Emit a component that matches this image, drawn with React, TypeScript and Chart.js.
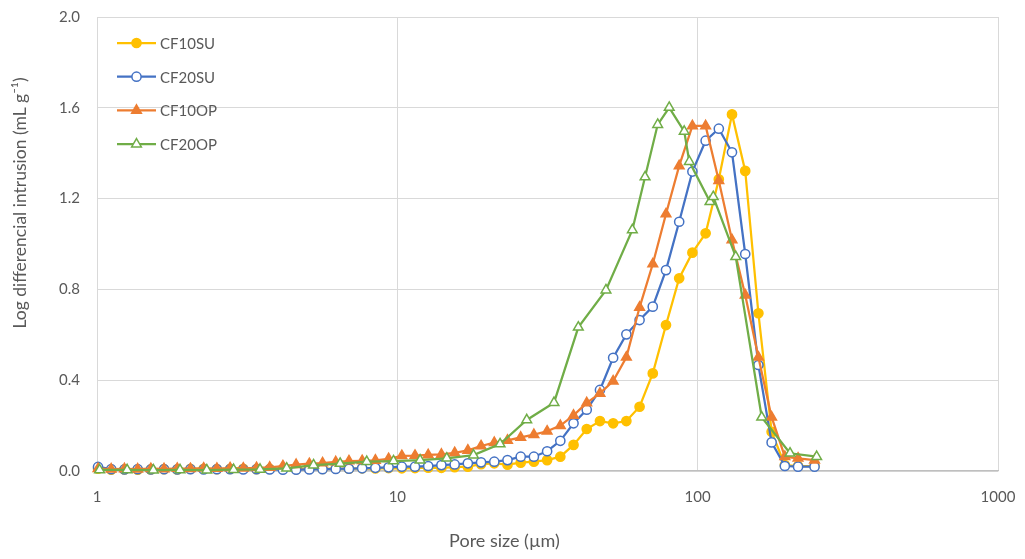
import React, { useEffect, useRef } from 'react';
import { Chart, registerables } from 'chart.js';

Chart.register(...registerables);

// Pore size grid (µm) shared by CF10SU, CF20SU and CF10OP
const poreSize = [
  1.008, 1.115, 1.234, 1.366, 1.511, 1.672, 1.85, 2.047, 2.265, 2.507, 2.774, 3.069, 3.397, 3.759,
  4.159, 4.603, 5.093, 5.636, 6.236, 6.901, 7.636, 8.45, 9.352, 10.35, 11.45, 12.67, 14.02, 15.52,
  17.17, 19.0, 21.03, 23.27, 25.75, 28.49, 31.53, 34.89, 38.61, 42.72, 47.28, 52.31, 57.89, 64.06,
  70.88, 78.44, 86.79, 96.04, 106.3, 117.6, 130.1, 144.0, 159.3, 176.3, 195.1, 215.9, 245.0,
];

// Log differential intrusion (mL/g)
const cf10su = [
  0.01, 0.006, 0.007, 0.006, 0.007, 0.008, 0.007, 0.009, 0.01, 0.008, 0.009, 0.01, 0.008, 0.009,
  0.01, 0.008, 0.01, 0.009, 0.011, 0.01, 0.012, 0.011, 0.013,
  0.012, 0.013, 0.015, 0.014, 0.017, 0.019, 0.03, 0.034, 0.028, 0.037, 0.041, 0.048, 0.063, 0.115,
  0.185, 0.22, 0.21, 0.22, 0.283, 0.43, 0.643, 0.849, 0.962, 1.047, 1.285, 1.571, 1.322, 0.695,
  0.173, 0.026, 0.022, 0.022,
];

const cf20su = [
  0.018, 0.008, 0.007, 0.008, 0.007, 0.008, 0.007, 0.008, 0.007, 0.008, 0.008, 0.007, 0.008, 0.007,
  0.006, 0.006, 0.007, 0.008, 0.009, 0.01, 0.012, 0.014, 0.016,
  0.019, 0.019, 0.022, 0.026, 0.029, 0.034, 0.038, 0.041, 0.048, 0.063, 0.063, 0.087, 0.133, 0.21,
  0.27, 0.357, 0.499, 0.602, 0.665, 0.724, 0.885, 1.098, 1.319, 1.455, 1.508, 1.404, 0.956, 0.467,
  0.126, 0.022, 0.019, 0.019,
];

const cf10op = [
  0.01, 0.008, 0.009, 0.008, 0.01, 0.009, 0.011, 0.01, 0.012, 0.011, 0.013, 0.012, 0.014, 0.016,
  0.022, 0.028, 0.032, 0.035, 0.04, 0.044, 0.045, 0.047, 0.054, 0.067, 0.068, 0.071, 0.073, 0.08,
  0.091, 0.11, 0.125, 0.135, 0.148, 0.16, 0.175, 0.2, 0.245, 0.3, 0.342, 0.396, 0.501, 0.721, 0.912,
  1.132, 1.344, 1.52, 1.52, 1.279, 1.018, 0.775, 0.501, 0.237, 0.063, 0.056, 0.048,
];

// CF20OP was measured on its own pore size grid
const poreSizeCF20OP = [
  1.02, 1.26, 1.54, 1.89, 2.32, 2.85, 3.49, 4.28, 5.26, 6.45, 7.91, 9.71, 11.91, 14.61, 17.93,
  21.98, 26.97, 33.24, 40.05, 49.5, 60.6, 66.8, 73.6, 80.4, 90.2, 93.8, 109.9, 112.7, 133.9,
  163.4, 203.0, 249.0,
];

const cf20op = [
  0.005, 0.005, 0.004, 0.005, 0.004, 0.006, 0.007, 0.012, 0.026, 0.033, 0.041, 0.044, 0.048,
  0.056, 0.07, 0.119, 0.225, 0.301, 0.633, 0.797, 1.062, 1.295, 1.526, 1.601, 1.496, 1.363, 1.186,
  1.208, 0.944, 0.237, 0.078, 0.063,
];

const xTicks = [1, 10, 100, 1000];
const yMin = 0;
const yMax = 2.0;
const yStep = 0.4;

const seriesNames = ['CF10SU', 'CF20SU', 'CF10OP', 'CF20OP'];
const xTitleText = 'Pore size (µm)';
const yTitleText = 'Log differencial intrusion (mL g⁻¹)';

const TEXT = '#595959';
const GRID = '#d9d9d9';
const FONT = 'Lato, "Open Sans", sans-serif';

const toPoints = (xs: number[], ys: number[]) => xs.map((x, i) => ({ x, y: ys[i] }));

function drawMarker(
  ctx: CanvasRenderingContext2D,
  style: string,
  x: number,
  y: number,
  r: number,
  fill: string,
  stroke: string,
  lw: number
) {
  ctx.beginPath();
  if (style === 'triangle') {
    let rad = 0;
    ctx.moveTo(x + Math.sin(rad) * r, y - Math.cos(rad) * r);
    rad += (2 * Math.PI) / 3;
    ctx.lineTo(x + Math.sin(rad) * r, y - Math.cos(rad) * r);
    rad += (2 * Math.PI) / 3;
    ctx.lineTo(x + Math.sin(rad) * r, y - Math.cos(rad) * r);
    ctx.closePath();
  } else {
    ctx.arc(x, y, r, 0, Math.PI * 2);
  }
  ctx.fillStyle = fill;
  ctx.fill();
  ctx.lineWidth = lw;
  ctx.strokeStyle = stroke;
  ctx.stroke();
}

// Legend drawn inside the plot, top-left, as line + marker + label
const insideLegend = {
  id: 'insideLegend',
  afterDraw(chart: any) {
    const { ctx, chartArea } = chart;
    ctx.save();
    chart.data.datasets.forEach((ds: any, i: number) => {
      const y = chartArea.top + 26 + i * 33.7;
      const x0 = chartArea.left + 20;
      const x1 = chartArea.left + 59;
      ctx.strokeStyle = ds.borderColor;
      ctx.lineWidth = ds.borderWidth;
      ctx.beginPath();
      ctx.moveTo(x0, y);
      ctx.lineTo(x1, y);
      ctx.stroke();
      drawMarker(
        ctx,
        ds.pointStyle,
        (x0 + x1) / 2,
        y,
        ds.pointRadius,
        ds.pointBackgroundColor,
        ds.pointBorderColor,
        ds.pointBorderWidth
      );
      ctx.fillStyle = TEXT;
      ctx.font = `15px ${FONT}`;
      ctx.textAlign = 'left';
      ctx.textBaseline = 'middle';
      ctx.fillText(ds.label, x1 + 4, y + 1);
    });
    ctx.restore();
  },
};

// Axis titles
const axisTitles = {
  id: 'axisTitles',
  afterDraw(chart: any) {
    const { ctx } = chart;
    ctx.save();
    ctx.fillStyle = TEXT;
    ctx.font = `18px ${FONT}`;
    ctx.textAlign = 'center';
    ctx.textBaseline = 'middle';
    ctx.fillText(xTitleText, chart.width / 2 - 8, 541);
    ctx.font = `17.5px ${FONT}`;
    ctx.translate(20, 203);
    ctx.rotate(-Math.PI / 2);
    ctx.fillText(yTitleText, 0, 0);
    ctx.restore();
  },
};

export default function App() {
  const ref = useRef<HTMLCanvasElement>(null);

  useEffect(() => {
    const colors = ['#FFC000', '#4472C4', '#ED7D31', '#70AD47'];
    const styles = ['circle', 'circle', 'triangle', 'triangle'];
    const filled = [true, false, true, false];
    const radii = [4.6, 4.6, 5.6, 5.6];
    const data = [
      toPoints(poreSize, cf10su),
      toPoints(poreSize, cf20su),
      toPoints(poreSize, cf10op),
      toPoints(poreSizeCF20OP, cf20op),
    ];

    const datasets = seriesNames.map((name, i) => ({
      label: name,
      data: data[i],
      showLine: true,
      borderColor: colors[i],
      backgroundColor: colors[i],
      borderWidth: 2.25,
      pointStyle: styles[i],
      pointRadius: radii[i],
      pointHoverRadius: radii[i],
      pointBackgroundColor: filled[i] ? colors[i] : '#ffffff',
      pointBorderColor: colors[i],
      pointBorderWidth: 1.5,
      tension: 0,
      clip: false as any,
      order: seriesNames.length - i,
    }));

    const chart = new Chart(ref.current as HTMLCanvasElement, {
      type: 'scatter',
      data: { datasets },
      plugins: [insideLegend, axisTitles],
      options: {
        animation: false,
        responsive: false,
        devicePixelRatio: 1,
        layout: { padding: { left: 0, right: 27, top: 17, bottom: 0 } },
        plugins: {
          legend: { display: false },
          tooltip: { enabled: false },
        },
        scales: {
          x: {
            type: 'logarithmic',
            min: 1,
            max: 1000,
            afterBuildTicks: (scale: any) => {
              scale.ticks = xTicks.map((value) => ({ value }));
            },
            afterFit: (scale: any) => {
              scale.height = 88;
              scale.paddingLeft = 0;
              scale.paddingRight = 0;
            },
            grid: { color: GRID, lineWidth: 1, drawTicks: false },
            border: { display: true, color: '#bfbfbf', width: 1.2 },
            ticks: {
              autoSkip: false,
              maxRotation: 0,
              padding: 17,
              color: TEXT,
              font: { family: FONT, size: 15 },
              callback: (v: any) => String(v),
            },
          },
          y: {
            min: yMin,
            max: yMax,
            afterFit: (scale: any) => {
              scale.width = 97;
              scale.paddingTop = 0;
              scale.paddingBottom = 0;
            },
            grid: { color: GRID, lineWidth: 1, drawTicks: false },
            border: { display: true, color: GRID, width: 1 },
            ticks: {
              stepSize: yStep,
              padding: 17,
              color: TEXT,
              font: { family: FONT, size: 15 },
              callback: (v: any) => Number(v).toFixed(1),
            },
          },
        },
      },
    });

    return () => chart.destroy();
  }, []);

  return (
    <div style={{ position: 'fixed', left: 0, top: 0, width: 1025, height: 559, background: '#fff' }}>
      <canvas ref={ref} width={1025} height={559} style={{ display: 'block' }} />
    </div>
  );
}
